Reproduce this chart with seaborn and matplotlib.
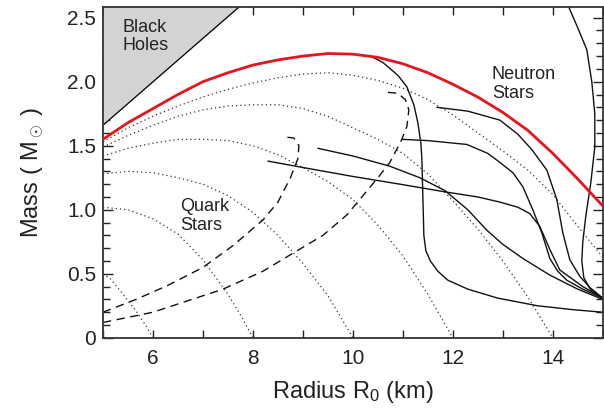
import numpy as np
import pandas as pd
import matplotlib
matplotlib.use("Agg")
import matplotlib.pyplot as plt
from matplotlib.ticker import MultipleLocator, FixedLocator, FixedFormatter
import seaborn as sns

# black hole limit
bh_radius = [5.0, 7.8]
bh_mass = [1.66, 2.61]

# red curve (maximum mass envelope)
red_radius = [5.0, 5.5, 6.0, 6.5, 7.0, 7.5, 8.0, 8.5, 9.0, 9.5, 10.0, 10.5, 11.0, 11.5,
              12.0, 12.5, 13.0, 13.5, 14.0, 14.5, 15.0]
red_mass = [1.55, 1.68, 1.79, 1.90, 2.0, 2.07, 2.13, 2.17, 2.2, 2.22, 2.215, 2.19, 2.14, 2.07,
            1.98, 1.88, 1.76, 1.62, 1.44, 1.24, 1.03]

# dotted curves
dot1_radius = [5.0, 5.15, 5.34, 5.5, 5.68, 5.85, 6.0]
dot1_mass = [0.5, 0.46, 0.37, 0.29, 0.2, 0.1, 0.0]
dot2_radius = [5.0, 5.5, 6.0, 6.5, 7.0, 7.5, 7.75, 8.0]
dot2_mass = [1.02, 1.0, 0.93, 0.81, 0.61, 0.34, 0.18, 0.0]
dot3_radius = [5.0, 5.5, 6.0, 6.5, 7.0, 7.5, 8.0, 8.5, 9.0, 9.5, 10.0]
dot3_mass = [1.28, 1.30, 1.29, 1.25, 1.20, 1.11, 0.98, 0.80, 0.58, 0.33, 0.0]
dot4_radius = [5.0, 5.5, 6.0, 6.5, 7.0, 7.5, 8.0, 8.5, 9.0, 9.5, 10.0, 10.5, 11.0, 11.5, 12.0]
dot4_mass = [1.42, 1.48, 1.52, 1.55, 1.55, 1.54, 1.50, 1.43, 1.33, 1.22, 1.08, 0.88, 0.64, 0.34, 0.0]
dot5_radius = [5.0, 5.5, 6.0, 6.5, 7.0, 7.5, 8.0, 8.5, 9.0, 9.5, 10.0, 10.5, 11.0, 11.5,
               12.0, 12.5, 13.0, 13.5, 14.0]
dot5_mass = [1.49, 1.58, 1.66, 1.73, 1.78, 1.81, 1.82, 1.82, 1.79, 1.73, 1.64, 1.55, 1.44, 1.28,
             1.07, 0.85, 0.6, 0.32, 0.0]
dot6_radius = [5.0, 5.5, 6.0, 6.5, 7.0, 7.5, 8.0, 8.5, 9.0, 9.5, 10.0, 10.5, 11.0, 11.5,
               12.0, 12.5, 13.0, 13.5, 14.0, 14.5, 15.0]
dot6_mass = [1.53, 1.64, 1.73, 1.81, 1.88, 1.94, 1.99, 2.03, 2.06, 2.07, 2.05, 2.01, 1.95, 1.86,
             1.74, 1.60, 1.46, 1.31, 1.12, 0.87, 0.63]

# dashed curves (quark stars)
dashA_radius = [5.0, 5.66, 6.3, 7.0, 7.6, 8.2, 8.5, 8.75, 8.9, 8.92, 8.82, 8.6]
dashA_mass = [0.2, 0.3, 0.41, 0.55, 0.72, 0.92, 1.06, 1.25, 1.4, 1.5, 1.56, 1.57]
dashB_radius = [5.0, 6.0, 7.4, 8.2, 8.84, 9.4, 9.88, 10.18, 10.5, 10.74, 10.98, 11.08, 11.12, 11.05, 10.9, 10.6]
dashB_mass = [0.12, 0.2, 0.38, 0.52, 0.67, 0.8, 0.96, 1.1, 1.25, 1.37, 1.55, 1.65, 1.78, 1.86, 1.91, 1.92]

# solid curves (neutron stars)
s1_radius = [10.1, 10.35, 10.6, 10.9, 11.08, 11.22, 11.3, 11.36, 11.38, 11.4, 11.42, 11.46, 11.55,
             11.7, 11.9, 12.3, 12.9, 13.7, 14.4, 15.0]
s1_mass = [2.21, 2.2, 2.15, 2.05, 1.96, 1.82, 1.68, 1.52, 1.4, 1.1, 0.8, 0.68, 0.6,
           0.52, 0.45, 0.38, 0.31, 0.25, 0.22, 0.2]
s2_radius = [11.68, 12.3, 12.94, 13.3, 13.58, 13.88, 14.08, 14.2, 14.34, 14.54, 14.75, 15.0]
s2_mass = [1.80, 1.77, 1.70, 1.59, 1.47, 1.31, 1.08, 0.82, 0.61, 0.48, 0.39, 0.31]
s3_radius = [10.98, 11.5, 12.28, 12.7, 12.94, 13.2, 13.4, 13.6, 13.78, 13.94, 14.1, 14.28, 14.6, 15.0]
s3_mass = [1.55, 1.54, 1.51, 1.44, 1.37, 1.29, 1.18, 1.0, 0.82, 0.62, 0.52, 0.45, 0.38, 0.31]
s4_radius = [8.3, 9.0, 10.0, 10.94, 11.84, 12.5, 12.94, 13.3, 13.54, 13.74, 13.94, 14.14, 14.6, 15.0]
s4_mass = [1.38, 1.33, 1.26, 1.2, 1.14, 1.1, 1.06, 1.02, 0.97, 0.87, 0.69, 0.53, 0.4, 0.31]
s5_radius = [9.3, 10.0, 10.74, 11.34, 11.84, 12.3, 12.68, 13.0, 13.4, 13.94, 14.5, 15.0]
s5_mass = [1.48, 1.42, 1.34, 1.25, 1.15, 1.0, 0.84, 0.73, 0.62, 0.49, 0.38, 0.3]
s6_radius = [14.3, 14.5, 14.68, 14.78, 14.84, 14.84, 14.76, 14.66, 14.6, 14.58, 14.62, 14.75, 15.0]
s6_mass = [2.6, 2.42, 2.25, 2.0, 1.75, 1.49, 1.21, 0.95, 0.75, 0.6, 0.47, 0.38, 0.31]

y_ticks = [0, 0.5, 1.0, 1.5, 2.0, 2.5]
y_labels = ["0", "0.5", "1.0", "1.5", "2.0", "2.5"]

sns.set_style("ticks")
plt.rcParams["font.family"] = ["Liberation Sans", "DejaVu Sans"]
plt.rcParams["mathtext.fontset"] = "custom"
plt.rcParams["mathtext.rm"] = "Liberation Sans"
plt.rcParams["mathtext.it"] = "Liberation Sans"

fig, ax = plt.subplots(figsize=(6.04, 4.12), dpi=100)
fig.subplots_adjust(left=0.1705, right=0.998, bottom=0.18, top=0.982)

# black hole region
ax.fill_between(bh_radius, bh_mass, 2.8, color="#d3d3d5", linewidth=0, zorder=1)
sns.lineplot(x=bh_radius, y=bh_mass, ax=ax, color="black", linewidth=0.9, zorder=2)

dotted = [(dot1_radius, dot1_mass), (dot2_radius, dot2_mass), (dot3_radius, dot3_mass),
          (dot4_radius, dot4_mass), (dot5_radius, dot5_mass), (dot6_radius, dot6_mass)]
for r, m in dotted:
    sns.lineplot(x=r, y=m, ax=ax, sort=False, estimator=None, color="#333333",
                 linewidth=0.9, linestyle=(0, (1, 2.4)))

for r, m in [(dashA_radius, dashA_mass), (dashB_radius, dashB_mass)]:
    sns.lineplot(x=r, y=m, ax=ax, sort=False, estimator=None, color="#111111",
                 linewidth=1.0, linestyle=(0, (6, 4)))

solid = [(s1_radius, s1_mass), (s2_radius, s2_mass), (s3_radius, s3_mass),
         (s4_radius, s4_mass), (s5_radius, s5_mass), (s6_radius, s6_mass)]
for r, m in solid:
    sns.lineplot(x=r, y=m, ax=ax, sort=False, estimator=None, color="#111111", linewidth=1.0)

sns.lineplot(x=red_radius, y=red_mass, ax=ax, color="#e8141c", linewidth=2.0, zorder=5)

ax.text(5.4, 2.49, "Black\nHoles", fontsize=13, va="top", ha="left", color="#222222", linespacing=1.1)
ax.text(12.78, 2.12, "Neutron\nStars", fontsize=13, va="top", ha="left", color="#222222", linespacing=1.1)
ax.text(6.54, 1.09, "Quark\nStars", fontsize=13, va="top", ha="left", color="#222222", linespacing=1.1)

ax.set_xlim(5, 15)
ax.set_ylim(0, 2.58)
ax.xaxis.set_major_locator(MultipleLocator(2))
ax.xaxis.set_minor_locator(MultipleLocator(1))
ax.yaxis.set_major_locator(FixedLocator(y_ticks))
ax.yaxis.set_major_formatter(FixedFormatter(y_labels))
ax.yaxis.set_minor_locator(MultipleLocator(0.1))
ax.tick_params(which="both", direction="in", top=True, right=True, colors="#222222",
               width=1.0, labelsize=15)
ax.tick_params(axis="x", which="both", length=6)
ax.tick_params(axis="y", which="major", length=7)
ax.tick_params(axis="y", which="minor", length=5)
ax.tick_params(axis="x", pad=8)
ax.tick_params(axis="y", pad=5)

for side in ["left", "bottom", "top", "right"]:
    ax.spines[side].set_linewidth(1.3)
    ax.spines[side].set_color("#333333")

ax.set_xlabel(r"Radius R$_0$ (km)", fontsize=17, color="#222222", labelpad=8)
ax.set_ylabel(r"Mass ( M$_\odot$ )", fontsize=17, color="#222222", labelpad=15)

fig.savefig("out.png", dpi=100)
